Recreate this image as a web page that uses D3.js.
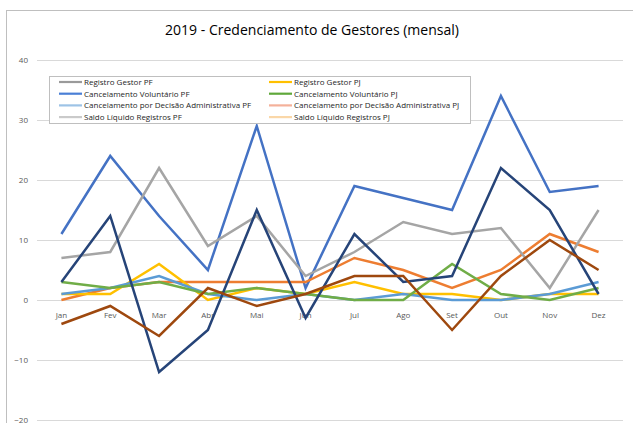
<!DOCTYPE html>
<html>
<head>
<meta charset="utf-8">
<script src="https://cdn.jsdelivr.net/npm/d3@7"></script>
<style>
  body { margin: 0; background: #fff; }
  svg { display: block; font-family: "Open Sans", "Liberation Sans", sans-serif; }
</style>
</head>
<body>
<div id="chart"></div>
<script>
var months = ["Jan", "Fev", "Mar", "Abr", "Mai", "Jun", "Jul", "Ago", "Set", "Out", "Nov", "Dez"];
var yTicks = [40, 30, 20, 10, 0, -10, -20];

var registroPF     = [11, 24, 14, 5, 29, 2, 19, 17, 15, 34, 18, 19];
var registroPJ     = [0, 2, 3, 3, 3, 3, 7, 5, 2, 5, 11, 8];
var cancVolPF      = [7, 8, 22, 9, 14, 4, 8, 13, 11, 12, 2, 15];
var cancVolPJ      = [1, 1, 6, 0, 2, 1, 3, 1, 1, 0, 1, 1];
var cancAdmPF      = [1, 2, 4, 1, 0, 1, 0, 1, 0, 0, 1, 3];
var cancAdmPJ      = [3, 2, 3, 1, 2, 1, 0, 0, 6, 1, 0, 2];
var saldoPF        = [3, 14, -12, -5, 15, -3, 11, 3, 4, 22, 15, 1];
var saldoPJ        = [-4, -1, -6, 2, -1, 1, 4, 4, -5, 4, 10, 5];

// drawing order + colours of the lines
var series = [
    { name: "Registro Gestor PF", values: registroPF, color: "#4472C4" },
    { name: "Registro Gestor PJ", values: registroPJ, color: "#ED7D31" },
    { name: "Cancelamento Voluntário PF", values: cancVolPF, color: "#A5A5A5" },
    { name: "Cancelamento Voluntário PJ", values: cancVolPJ, color: "#FFC000" },
    { name: "Cancelamento por Decisão Administrativa PF", values: cancAdmPF, color: "#5B9BD5" },
    { name: "Cancelamento por Decisão Administrativa PJ", values: cancAdmPJ, color: "#70AD47" },
    { name: "Saldo Líquido Registros  PF", values: saldoPF, color: "#264478" },
    { name: "Saldo Líquido Registros  PJ", values: saldoPJ, color: "#9E480E" }
];

// legend as it appears in the picture
var legendNames = [
    "Registro Gestor PF", "Registro Gestor PJ",
    "Cancelamento Voluntário PF", "Cancelamento Voluntário PJ",
    "Cancelamento por Decisão Administrativa PF", "Cancelamento por Decisão Administrativa PJ",
    "Saldo Líquido Registros  PF", "Saldo Líquido Registros  PJ"
];
var legendColors = ["#9a9a9a", "#FFC000", "#4A7FD6", "#5FA83A", "#9DC3E6", "#F4B19A", "#CACACA", "#FAD7A8"];

var W = 633, H = 423;

var svg = d3.select("#chart")
    .append("svg")
    .attr("width", W)
    .attr("height", H);

// chart frame
svg.append("rect")
    .attr("x", 6.5).attr("y", 10.5)
    .attr("width", 700).attr("height", 500)
    .attr("fill", "#fff")
    .attr("stroke", "#bfbfbf");

svg.append("text")
    .attr("x", 312).attr("y", 35)
    .attr("text-anchor", "middle")
    .attr("textLength", 294)
    .attr("lengthAdjust", "spacingAndGlyphs")
    .style("font-size", "14px")
    .style("fill", "#000")
    .text("2019 - Credenciamento de Gestores (mensal)");

var x = d3.scaleBand()
    .domain(months)
    .range([37, 623]);

var y = d3.scaleLinear()
    .domain([-20, 40])
    .range([420, 60]);

// gridlines
svg.append("g")
    .selectAll("line")
    .data(yTicks)
    .enter()
    .append("line")
    .attr("x1", 37).attr("x2", 623)
    .attr("y1", function(d) { return Math.round(y(d)) + 0.5; })
    .attr("y2", function(d) { return Math.round(y(d)) + 0.5; })
    .attr("stroke", "#d9d9d9")
    .attr("stroke-width", 1);

var yAxis = svg.append("g")
    .attr("transform", "translate(30,0)")
    .call(d3.axisLeft(y).tickValues(yTicks).tickSize(0).tickPadding(2));
yAxis.select(".domain").remove();
yAxis.selectAll("text")
    .style("font-family", "Open Sans, sans-serif")
    .style("font-size", "8px")
    .style("fill", "#595959");

var xAxis = svg.append("g")
    .attr("transform", "translate(0," + y(0) + ")")
    .call(d3.axisBottom(x).tickSize(0).tickPadding(12));
xAxis.select(".domain").remove();
xAxis.selectAll("text")
    .style("font-family", "Open Sans, sans-serif")
    .style("font-size", "8px")
    .style("fill", "#595959");

var line = d3.line()
    .x(function(d, i) { return x(months[i]) + x.bandwidth() / 2; })
    .y(function(d) { return y(d); });

svg.selectAll("myLines")
    .data(series)
    .enter()
    .append("path")
    .attr("d", function(d) { return line(d.values); })
    .attr("stroke", function(d) { return d.color; })
    .attr("stroke-width", 2.5)
    .attr("stroke-linejoin", "miter")
    .attr("fill", "none");

// legend
var legend = svg.append("g");
legend.append("rect")
    .attr("x", 49.5).attr("y", 76.5)
    .attr("width", 421).attr("height", 47)
    .attr("fill", "#fff")
    .attr("stroke", "#bfbfbf");

var item = legend.selectAll("g.item")
    .data(legendNames)
    .enter()
    .append("g")
    .attr("class", "item")
    .attr("transform", function(d, i) {
        return "translate(" + (i % 2 === 0 ? 59 : 269) + "," + (82 + Math.floor(i / 2) * 11.7) + ")";
    });

item.append("line")
    .attr("x1", 0).attr("x2", 23)
    .attr("y1", 0).attr("y2", 0)
    .attr("stroke", function(d, i) { return legendColors[i]; })
    .attr("stroke-width", 2.2);

item.append("text")
    .attr("x", 25)
    .attr("y", 3)
    .style("font-size", "8px")
    .style("fill", "#262626")
    .text(function(d) { return d; });
</script>
</body>
</html>
